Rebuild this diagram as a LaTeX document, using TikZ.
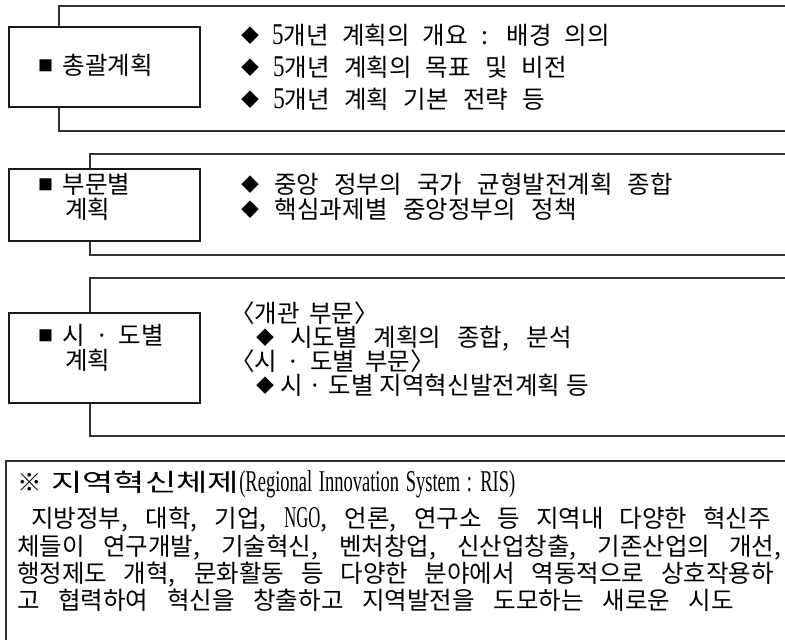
\documentclass[tikz,border=0pt]{standalone}
\usepackage{graphicx}
\usepackage{fontspec}
\setmainfont{Noto Sans CJK KR}
\newfontfamily\latfont[Scale=1.1]{Liberation Serif}
% Latin text, set tall and squeezed to a given width
\newcommand\ltw[2]{\resizebox{#1pt}{1.12\height}{\latfont #2}}
\newcommand\sqmark{\raisebox{2.5pt}{\fontsize{15}{15}\selectfont ■}}
\newcommand\dmmark{\raisebox{1.5pt}{\fontsize{18}{18}\selectfont ◆}}
\newcommand\kr{\fontsize{24.5}{28}\selectfont\spaceskip=0.4em plus 0.6em minus 0.15em\relax}
\newcommand\fitto[2]{\makebox[#1pt][s]{#2}}
\newcommand\five{\ltw{11.5}{5}}

\tikzset{
  frame/.style={draw=black!80, line width=1.5pt},
  innerbox/.style={draw=black!90, line width=1.5pt, fill=white, rectangle,
    anchor=north west, minimum width=191pt, inner sep=0pt, outer sep=0pt},
  txt/.style={anchor=base west, inner sep=0pt, outer sep=0pt, font=\kr},
}

\begin{document}
\begin{tikzpicture}[x=1pt, y=-1pt]
\useasboundingbox (0,0) rectangle (785,640);

% open frames on the right-hand side
\draw[frame] (785,6) -- (59,6) -- (59,131) -- (785,131);
\draw[frame] (785,154) -- (90,154) -- (90,255) -- (785,255);
\draw[frame] (785,278) -- (90,278) -- (90,436) -- (785,436);
\draw[frame] (785,461) -- (6,461) -- (6,640);

% heading boxes
\node[innerbox, minimum height=80pt] (b1) at (9,27) {};
\node[innerbox, minimum height=72pt] (b2) at (9,169) {};
\node[innerbox, minimum height=90pt] (b3) at (9,313) {};

% heading texts
\node[txt] (l1)  at (38,74)  {\sqmark{} 총괄계획};
\node[txt] (l2a) at (38,193) {\sqmark{} 부문별};
\node[txt] (l2b) at (65,218) {계획};
\node[txt] (l3a) at (38,344) {\sqmark{} 시 · 도별};
\node[txt] (l3b) at (65,369) {계획};

% overall plan
\node[txt] (r1a) at (241,44)  {\fitto{369}{\dmmark{} \five{}개년 계획의 개요 : 배경 의의}};
\node[txt] (r1b) at (241,76)  {\fitto{326}{\dmmark{} \five{}개년 계획의 목표 및 비전}};
\node[txt] (r1c) at (241,108) {\fitto{304}{\dmmark{} \five{}개년 계획 기본 전략 등}};

% sector plans
\node[txt] (r2a) at (241,193) {\fitto{432}{\dmmark{} 중앙 정부의 국가 균형발전계획 종합}};
\node[txt] (r2b) at (241,218) {\fitto{336}{\dmmark{} 핵심과제별 중앙정부의 정책}};

% provincial plans
\node[txt] (r3a) at (230,322) {〈개관 부문〉};
\node[txt] (r3b) at (256,346) {\fitto{316}{\dmmark{} 시도별 계획의 종합, 분석}};
\node[txt] (r3c) at (230,370) {〈시 · 도별 부문〉};
\node[txt] (r3d) at (256,394) {\fitto{314}{\dmmark{} 시 · 도별 지역혁신발전계획 등}};

% RIS note
\node[txt] (p0) at (17,491) {※ \resizebox{188pt}{\height}{지역혁신체제}\ltw{276}{(Regional Innovation System : RIS)}};
\node[txt] (p1) at (31,527) {\fitto{740}{지방정부, 대학, 기업, \ltw{36}{NGO}, 언론, 연구소 등 지역내 다양한 혁신주}};
\node[txt] (p2) at (17,555) {\fitto{764}{체들이 연구개발, 기술혁신, 벤처창업, 신산업창출, 기존산업의 개선,}};
\node[txt] (p3) at (17,582) {\fitto{757}{행정제도 개혁, 문화활동 등 다양한 분야에서 역동적으로 상호작용하}};
\node[txt] (p4) at (17,609) {\fitto{717}{고 협력하여 혁신을 창출하고 지역발전을 도모하는 새로운 시도}};
\end{tikzpicture}
\end{document}
